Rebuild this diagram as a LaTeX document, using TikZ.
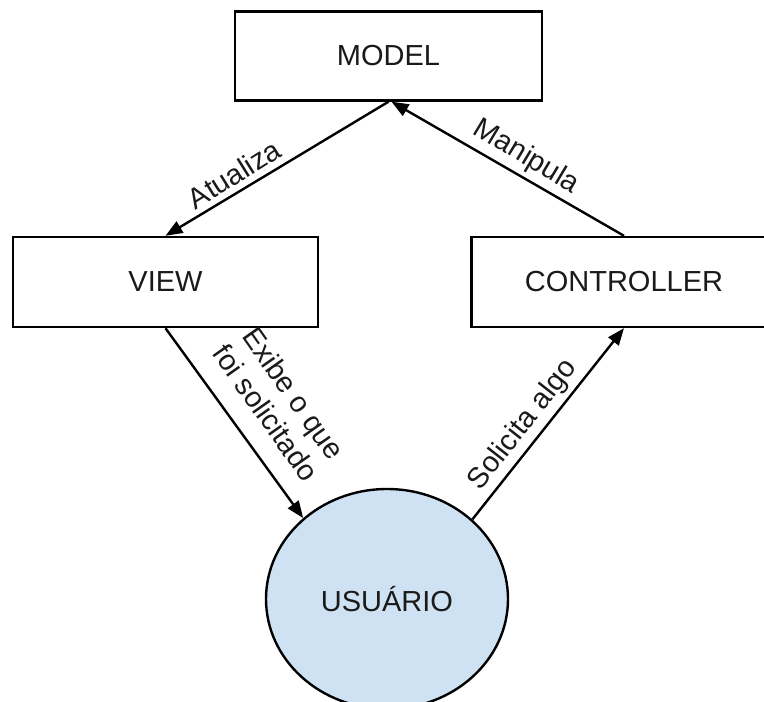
\documentclass[tikz,border=0pt]{standalone}
\usepackage{fontspec}
\setmainfont{Liberation Sans}
\usetikzlibrary{arrows.meta,shapes.geometric}
\definecolor{usrfill}{HTML}{CFE2F3}
\definecolor{txt}{HTML}{1A1A1A}
\begin{document}
\begin{tikzpicture}[x=1pt,y=-1pt,
  lbl/.style={font=\fontsize{29}{34}\selectfont, text=txt},
  box/.style={draw=black, line width=2.4pt, minimum width=307pt, minimum height=89pt, inner sep=0pt, lbl},
  arr/.style={draw=black, line width=2.4pt, -{Triangle[length=17pt,width=13pt]}},
  elbl/.style={lbl, inner sep=0pt, align=center}]
\useasboundingbox (0,0) rectangle (764,702);
\clip (0,0) rectangle (764,702);
\node[box] (model) at (388.5,56) {MODEL};
\node[box, minimum width=305pt, minimum height=90pt] (view) at (165.5,282) {VIEW};
\node[box, minimum width=305pt, minimum height=90pt] (ctrl) at (624,282) {CONTROLLER};
\node[ellipse, draw=black, line width=2.4pt, fill=usrfill, minimum width=242pt, minimum height=220pt, inner sep=0pt, lbl] (usr) at (387,599) {USUÁRIO};
\draw[arr] (model.south) -- (view.north);
\draw[arr] (ctrl.north) -- ([xshift=3pt]model.south);
\draw[arr] (view.south) -- (usr.136);
\draw[arr] (usr.43) -- (ctrl.south);
\node[elbl, rotate=32] (latual) at (234,174) {Atualiza};
\node[elbl, rotate=-31] (lmanip) at (526,157) {Manipula};
\node[elbl, rotate=-54.8] (lexibe) at (280,403) {Exibe o que\\foi solicitado};
\node[elbl, rotate=52] (lsolic) at (523,425) {Solicita algo};
\end{tikzpicture}
\end{document}
